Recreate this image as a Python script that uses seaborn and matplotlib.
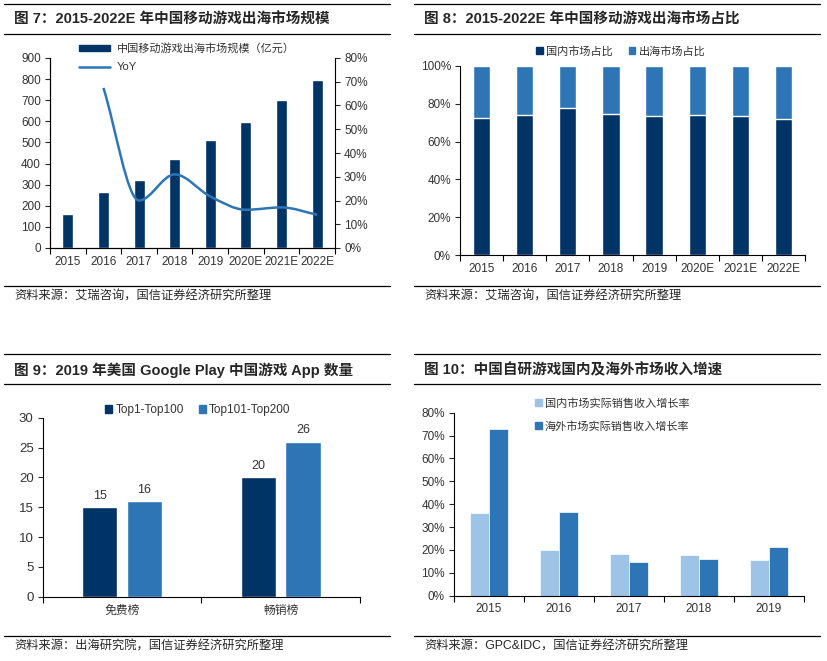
import numpy as np
import pandas as pd
import matplotlib
matplotlib.use('Agg')
import matplotlib.pyplot as plt
import seaborn as sns
from matplotlib.path import Path
from matplotlib.patches import PathPatch, Patch
from matplotlib.lines import Line2D
from matplotlib.ticker import PercentFormatter

# ---- data ----
years = ['2015', '2016', '2017', '2018', '2019', '2020E', '2021E', '2022E']
overseas_size = [161, 265, 322, 420, 513, 597, 699, 797]
yoy = [0.674, 0.200, 0.310, 0.217, 0.161, 0.171, 0.140]   # 2016 onwards

domestic_share = [0.726, 0.739, 0.779, 0.748, 0.734, 0.741, 0.734, 0.718]

gp_lists = ['免费榜', '畅销榜']
gp_top100 = [15, 20]
gp_top200 = [16, 26]

growth_years = ['2015', '2016', '2017', '2018', '2019']
domestic_growth = [0.360, 0.200, 0.184, 0.178, 0.155]
overseas_growth = [0.727, 0.364, 0.147, 0.160, 0.212]

NAVY = '#003366'
MID = '#2E75B6'
LIGHT = '#9DC3E6'
TXT = '#333333'

sns.set_style('white')
plt.rcParams['font.family'] = ['Liberation Sans', 'Noto Sans CJK SC', 'DejaVu Sans']
plt.rcParams['axes.edgecolor'] = 'black'
plt.rcParams['axes.linewidth'] = 0.8

W, H = 828, 661
fig = plt.figure(figsize=(W / 100, H / 100), dpi=100)


def fx(px):
    return px / W


def fy(py):
    return 1 - py / H


def axes_px(left, top, right, bottom):
    return fig.add_axes([fx(left), fy(bottom), (right - left) / W, (bottom - top) / H])


def header(x0, x1, top_line, title, bottom_line, src_line, source):
    for yy in (top_line, bottom_line, src_line):
        fig.add_artist(Line2D([fx(x0), fx(x1)], [fy(yy), fy(yy)], color='black', lw=0.9))
    fig.text(fx(x0 + 10), fy((top_line + bottom_line) / 2 + 1), title, fontsize=10.5,
             fontweight='bold', va='center', ha='left')
    fig.text(fx(x0 + 10), fy(src_line + 11), source, fontsize=8.8, va='center', ha='left')


def style_axis(ax, n, ysize=8.5, xpad=5.5):
    ax.set_xlim(-0.5, n - 0.5)
    ax.set_xticks(np.arange(-0.5, n, 1), minor=True)
    ax.tick_params(axis='x', which='minor', length=4, direction='out', width=0.8, color='black', bottom=True)
    ax.tick_params(axis='x', which='major', length=0, pad=xpad, labelsize=8.5, labelcolor=TXT)
    ax.tick_params(axis='y', which='major', length=3.5, direction='out', width=0.8, pad=3,
                   labelsize=ysize, labelcolor=TXT, left=True)
    for s in ('top', 'right'):
        ax.spines[s].set_visible(False)
    ax.set_xlabel('')
    ax.set_ylabel('')


# ---------------- Figure 7 ----------------
header(4, 390, 3.7, '图 7：2015-2022E 年中国移动游戏出海市场规模', 34, 285.7,
       '资料来源：艾瑞咨询，国信证券经济研究所整理')
ax1 = axes_px(50, 58, 335, 248)
sns.barplot(x=years, y=overseas_size, color=NAVY, saturation=1, width=0.31, ax=ax1)
ax1.set_ylim(0, 900)
ax1.set_yticks(range(0, 901, 100))
style_axis(ax1, len(years))

ax1r = ax1.twinx()
ax1r.set_ylim(0, 0.8)
ax1r.set_yticks(np.arange(0, 0.81, 0.1))
ax1r.yaxis.set_major_formatter(PercentFormatter(1.0, decimals=0))
ax1r.tick_params(axis='y', length=3.5, direction='out', width=0.8, pad=3, labelsize=8.5, labelcolor=TXT)
ax1r.spines['top'].set_visible(False)

# smooth (monotone-style) curve through YoY points
xs = np.arange(1, len(years), dtype=float)
ys = np.array(yoy)
m = np.zeros(len(xs))
for i in range(len(xs)):
    if i == 0:
        m[i] = ys[1] - ys[0]
    elif i == len(xs) - 1:
        m[i] = ys[-1] - ys[-2]
    else:
        d0 = ys[i] - ys[i - 1]
        d1 = ys[i + 1] - ys[i]
        m[i] = 0 if d0 * d1 <= 0 else (d0 + d1) / 2
verts = [(xs[0], ys[0])]
codes = [Path.MOVETO]
for i in range(len(xs) - 1):
    verts += [(xs[i] + 1 / 3, ys[i] + m[i] / 3), (xs[i + 1] - 1 / 3, ys[i + 1] - m[i + 1] / 3),
              (xs[i + 1], ys[i + 1])]
    codes += [Path.CURVE4] * 3
ax1r.add_patch(PathPatch(Path(verts, codes), fill=False, edgecolor=MID, lw=1.8))

ax1r.legend([Patch(color=NAVY), Line2D([0], [0], color=MID, lw=1.8)],
            ['中国移动游戏出海市场规模（亿元）', 'YoY'],
            loc='upper left', bbox_to_anchor=(fx(79), fy(43)), bbox_transform=fig.transFigure,
            frameon=False, fontsize=8, handlelength=2.8, handleheight=0.5, handletextpad=0.6,
            labelspacing=0.75, borderpad=0, borderaxespad=0, labelcolor=TXT)

# ---------------- Figure 8 ----------------
header(414, 820, 3.7, '图 8：2015-2022E 年中国移动游戏出海市场占比', 34, 285.7,
       '资料来源：艾瑞咨询，国信证券经济研究所整理')
ax2 = axes_px(460, 66, 805, 255)
share = pd.DataFrame({'year': years, 'domestic': domestic_share})
share['total'] = 1.0
sns.barplot(data=share, x='year', y='total', color=MID, saturation=1, width=0.4, ax=ax2)
sns.barplot(data=share, x='year', y='domestic', color=NAVY, saturation=1, width=0.4, ax=ax2)
ax2.set_ylim(0, 1)
ax2.set_yticks(np.arange(0, 1.01, 0.2))
ax2.yaxis.set_major_formatter(PercentFormatter(1.0, decimals=0))
style_axis(ax2, len(years))
ax2.legend([Patch(color=NAVY), Patch(color=MID)], ['国内市场占比', '出海市场占比'], ncol=2,
           loc='center', bbox_to_anchor=(fx(621), fy(51)), bbox_transform=fig.transFigure,
           frameon=False, fontsize=8, handlelength=0.6, handleheight=0.6, handletextpad=0.3,
           columnspacing=1.4, borderpad=0, labelcolor=TXT)

# ---------------- Figure 9 ----------------
header(4, 390, 353.7, '图 9：2019 年美国 Google Play 中国游戏 App 数量', 384, 635.7,
       '资料来源：出海研究院，国信证券经济研究所整理')
ax3 = axes_px(42.7, 417.7, 360, 596.7)
gp = pd.DataFrame({'list': gp_lists * 2,
                   'rank': ['Top1-Top100'] * 2 + ['Top101-Top200'] * 2,
                   'count': gp_top100 + gp_top200})
sns.barplot(data=gp, x='list', y='count', hue='rank', palette=[NAVY, MID], saturation=1,
            width=0.565, gap=0.215, legend=False, ax=ax3)
for c in ax3.containers:
    ax3.bar_label(c, fmt='%d', padding=4, fontsize=9, color=TXT)
ax3.set_ylim(0, 30)
ax3.set_yticks(range(0, 31, 5))
style_axis(ax3, len(gp_lists), ysize=9.5, xpad=6)
ax3.legend([Patch(color=NAVY), Patch(color=MID)], ['Top1-Top100', 'Top101-Top200'], ncol=2,
           loc='center', bbox_to_anchor=(fx(198), fy(410)), bbox_transform=fig.transFigure,
           frameon=False, fontsize=8.5, handlelength=0.6, handleheight=0.6, handletextpad=0.3,
           columnspacing=1.2, borderpad=0, labelcolor=TXT)

# ---------------- Figure 10 ----------------
header(414, 820, 353.7, '图 10：中国自研游戏国内及海外市场收入增速', 384, 635.7,
       '资料来源：GPC&IDC，国信证券经济研究所整理')
ax4 = axes_px(454, 412.7, 804, 595.7)
gr = pd.DataFrame({'year': growth_years * 2,
                   'market': ['国内市场实际销售收入增长率'] * 5 + ['海外市场实际销售收入增长率'] * 5,
                   'growth': domestic_growth + overseas_growth})
sns.barplot(data=gr, x='year', y='growth', hue='market', palette=[LIGHT, MID], saturation=1,
            width=0.557, legend=False, edgecolor='white', linewidth=0.5, ax=ax4)
ax4.set_ylim(0, 0.8)
ax4.set_yticks(np.arange(0, 0.81, 0.1))
ax4.yaxis.set_major_formatter(PercentFormatter(1.0, decimals=0))
style_axis(ax4, len(growth_years), xpad=5)
ax4.legend([Patch(color=LIGHT), Patch(color=MID)],
           ['国内市场实际销售收入增长率', '海外市场实际销售收入增长率'],
           loc='upper left', bbox_to_anchor=(fx(535), fy(398)), bbox_transform=fig.transFigure,
           frameon=False, fontsize=8, handlelength=0.6, handleheight=0.6, handletextpad=0.3,
           labelspacing=1.1, borderpad=0, borderaxespad=0, labelcolor=TXT)

fig.savefig('out.png', dpi=100)
